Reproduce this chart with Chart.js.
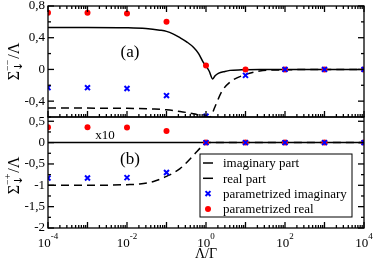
<!DOCTYPE html>
<html lang="en">
  <head>
    <meta charset="UTF-8" />
    <title>Sigma vs Lambda/Gamma</title>
    <script src="https://cdn.jsdelivr.net/npm/chart.js"></script>
    <style>
      body { margin: 0; background: #fff; }
    </style>
  </head>
  <body>
    <canvas id="myChart" width="374" height="261"></canvas>

    <script>
      // Lambda/Gamma values of the parametrized points
      const paramX = [1e-4, 1e-3, 1e-2, 1e-1, 1e0, 1e1, 1e2, 1e3, 1e4];

      // panel (a): Sigma^{--}/Lambda
      const paramImagA = [-0.23, -0.23, -0.24, -0.33, -0.59, -0.075, 0, 0, 0];
      const paramRealA = [0.715, 0.715, 0.705, 0.6, 0.05, 0, 0, 0, 0];

      const realXA = [1e-4, 1e-3, 1e-2, 0.03, 0.068, 0.1, 0.15, 0.22, 0.33, 0.48, 0.65, 0.855, 1.0, 1.2, 1.48, 1.7, 2.05, 3, 4.05, 8, 23, 100, 1e3, 1e4];
      const realYA = [0.53, 0.53, 0.525, 0.515, 0.495, 0.48, 0.445, 0.4, 0.345, 0.28, 0.2, 0.09, 0.045, -0.02, -0.12, -0.08, -0.05, -0.025, -0.012, -0.005, 0, 0, 0, 0];

      const imagXA = [1e-4, 1e-3, 1e-2, 0.05, 0.1, 0.22, 0.48, 0.8, 1.26, 1.69, 2.5, 4.05, 8.7, 23, 100, 1e3, 1e4];
      const imagYA = [-0.487, -0.488, -0.49, -0.5, -0.51, -0.53, -0.56, -0.585, -0.6, -0.47, -0.28, -0.16, -0.075, -0.02, -0.005, 0, 0];

      // panel (b): Sigma^{-+}/Lambda (parametrized real shown x10)
      const paramImagB = [-0.83, -0.83, -0.82, -0.7, 0, 0, 0, 0, 0];
      const paramRealB = [0.36, 0.36, 0.355, 0.27, 0, 0, 0, 0, 0];

      const realXB = [1e-4, 1e4];
      const realYB = [0, 0];

      const imagXB = [1e-4, 1e-3, 1e-2, 0.021, 0.047, 0.1, 0.22, 0.48, 0.8, 0.95, 1.0, 10, 1e4];
      const imagYB = [-1.0, -1.0, -0.985, -0.97, -0.91, -0.79, -0.61, -0.3, -0.08, -0.02, 0, 0, 0];

      // axis ticks
      const yTicksA = [-0.6, -0.4, -0.2, 0, 0.2, 0.4, 0.6, 0.8];
      const yLabelsA = [-0.4, 0, 0.4, 0.8];
      const yTicksB = [-2, -1.75, -1.5, -1.25, -1, -0.75, -0.5, -0.25, 0, 0.25, 0.5];
      const yLabelsB = [-2, -1.5, -1, -0.5, 0, 0.5];
      const xLabelExps = [-4, -2, 0, 2, 4];

      const legendItems = [
        { label: "imaginary part", kind: "dash" },
        { label: "real part", kind: "line" },
        { label: "parametrized imaginary", kind: "cross" },
        { label: "parametrized real", kind: "dot" },
      ];

      const serif = "'Liberation Serif', 'DejaVu Serif', serif";
      Chart.defaults.font.family = serif;
      Chart.defaults.color = "#000";

      const zip = (xs, ys) => xs.map((x, i) => ({ x: x, y: ys[i] }));
      const fmt = (v) => String(v).replace(".", ",");

      function lineSet(label, xs, ys, axis, dashed) {
        return {
          label: label,
          data: zip(xs, ys),
          yAxisID: axis,
          showLine: true,
          pointRadius: 0,
          borderColor: "#000",
          borderWidth: 1.5,
          borderDash: dashed ? [8, 5] : [],
          cubicInterpolationMode: "monotone",
          order: 3,
        };
      }

      function crossSet(ys, axis) {
        return {
          label: "parametrized imaginary",
          data: zip(paramX, ys),
          yAxisID: axis,
          pointStyle: "crossRot",
          pointRadius: 3.5,
          pointBorderWidth: 2,
          borderColor: "#0000ff",
          backgroundColor: "#0000ff",
          order: 1,
        };
      }

      function dotSet(ys, axis) {
        return {
          label: "parametrized real",
          data: zip(paramX, ys),
          yAxisID: axis,
          pointStyle: "circle",
          pointRadius: 3,
          borderWidth: 0,
          borderColor: "#ff0000",
          backgroundColor: "#ff0000",
          order: 2,
        };
      }

      function yScale(min, max, ticks, labels) {
        return {
          type: "linear",
          position: "left",
          stack: "panels",
          stackWeight: 1,
          min: min,
          max: max,
          afterBuildTicks: (s) => {
            s.ticks = ticks.map((v) => ({ value: v }));
          },
          afterFit: (s) => {
            s.width = 48;
            s.paddingTop = 0;
            s.paddingBottom = 0;
          },
          ticks: {
            autoSkip: false,
            padding: 3,
            color: "#000",
            font: { size: 13 },
            callback: (v) => (labels.includes(v) ? fmt(v) : ""),
          },
          grid: { display: false, drawTicks: false },
          border: { display: false },
        };
      }

      function drawSigmaTitle(c, cx, cy, sup) {
        c.save();
        c.translate(cx, cy);
        c.rotate(-Math.PI / 2);
        const big = "16px " + serif;
        const small = "10px " + serif;
        const arrow = "11px 'DejaVu Sans', sans-serif";
        c.font = big;
        const wS = c.measureText("Σ").width;
        const wL = c.measureText("/Λ").width;
        c.font = arrow;
        const wA = c.measureText("↓").width;
        c.font = small;
        const wMid = Math.max(wA, c.measureText(sup).width) + 1;
        const x0 = -(wS + wMid + wL) / 2;
        c.textAlign = "left";
        c.textBaseline = "alphabetic";
        c.font = big;
        c.fillText("Σ", x0, 0);
        c.font = arrow;
        c.fillText("↓", x0 + wS, 3);
        c.font = small;
        c.fillText(sup, x0 + wS, -8);
        c.font = big;
        c.fillText("/Λ", x0 + wS + wMid, 0);
        c.restore();
      }

      const panelPlugin = {
        id: "panels",
        afterDraw(chart) {
          const c = chart.ctx;
          const xs = chart.scales.x;
          const yA = chart.scales.yA;
          const yB = chart.scales.yB;
          const left = chart.chartArea.left;
          const right = chart.chartArea.right;
          const seg = (x1, y1, x2, y2) => {
            c.beginPath();
            c.moveTo(x1, y1);
            c.lineTo(x2, y2);
            c.stroke();
          };

          c.save();
          c.strokeStyle = "#000";
          c.fillStyle = "#000";
          c.lineWidth = 1.3;

          // frames and y ticks
          [yA, yB].forEach((s) => {
            c.strokeRect(left, s.top, right - left, s.bottom - s.top);
            s.ticks.forEach((t) => {
              const py = s.getPixelForValue(t.value);
              const len = t.label ? 6 : 3;
              seg(left, py, left + len, py);
              seg(right, py, right - len, py);
            });
          });

          // x ticks (decades major, 2..9 minor)
          for (let n = -4; n <= 4; n++) {
            for (let k = 1; k <= 9; k++) {
              if (n === 4 && k > 1) break;
              const px = xs.getPixelForValue(k * Math.pow(10, n));
              const len = k === 1 ? 6 : 3;
              seg(px, yA.top, px, yA.top + len);
              seg(px, yA.bottom, px, yA.bottom - len);
              seg(px, yB.bottom, px, yB.bottom - len);
            }
          }

          // x tick labels 10^n
          c.textBaseline = "alphabetic";
          c.textAlign = "left";
          xLabelExps.forEach((e) => {
            const px = xs.getPixelForValue(Math.pow(10, e));
            c.font = "13px " + serif;
            const wb = c.measureText("10").width;
            c.font = "9px " + serif;
            const we = c.measureText(String(e)).width;
            const x0 = px - (wb + we) / 2;
            c.font = "13px " + serif;
            c.fillText("10", x0, 247);
            c.font = "9px " + serif;
            c.fillText(String(e), x0 + wb, 239);
          });

          // axis titles
          c.font = "14px " + serif;
          c.textAlign = "center";
          c.fillText("Λ/Γ", (left + right) / 2, 258);
          drawSigmaTitle(c, 19, (yA.top + yA.bottom) / 2, "−−");
          drawSigmaTitle(c, 19, (yB.top + yB.bottom) / 2 + 3, "−+");

          // panel annotations
          c.textAlign = "center";
          c.textBaseline = "middle";
          c.font = "17px " + serif;
          c.fillText("(a)", 130, 53);
          c.fillText("(b)", 130, 160);
          c.font = "13px " + serif;
          c.fillText("x10", 105, 136);

          // legend
          const bx = 200, by = 154, bw = 152, bh = 63;
          c.fillStyle = "#fff";
          c.fillRect(bx, by, bw, bh);
          c.lineWidth = 1;
          c.strokeRect(bx, by, bw, bh);
          c.textAlign = "left";
          c.font = "13px " + serif;
          legendItems.forEach((item, i) => {
            const ry = by + 9 + i * 15.3;
            c.strokeStyle = "#000";
            c.lineWidth = 1.5;
            if (item.kind === "dash" || item.kind === "line") {
              seg(203, ry, 213, ry);
            } else if (item.kind === "cross") {
              c.strokeStyle = "#0000ff";
              c.lineWidth = 2;
              Chart.helpers.drawPoint(c, { pointStyle: "crossRot", radius: 3.5, borderWidth: 2 }, 208, ry);
            } else {
              c.fillStyle = "#ff0000";
              c.beginPath();
              c.arc(208, ry, 3, 0, Math.PI * 2);
              c.fill();
            }
            c.fillStyle = "#000";
            c.fillText(item.label, 223, ry + 1);
          });
          c.restore();
        },
      };

      new Chart(document.getElementById("myChart"), {
        type: "scatter",
        data: {
          datasets: [
            lineSet("real part", realXA, realYA, "yA", false),
            lineSet("imaginary part", imagXA, imagYA, "yA", true),
            lineSet("real part", realXB, realYB, "yB", false),
            lineSet("imaginary part", imagXB, imagYB, "yB", true),
            crossSet(paramImagA, "yA"),
            dotSet(paramRealA, "yA"),
            crossSet(paramImagB, "yB"),
            dotSet(paramRealB, "yB"),
          ],
        },
        options: {
          responsive: false,
          animation: false,
          devicePixelRatio: 1,
          layout: { padding: { top: 5, right: 10, left: 0, bottom: 0 } },
          plugins: { legend: { display: false }, tooltip: { enabled: false } },
          scales: {
            x: {
              type: "logarithmic",
              position: "bottom",
              min: 1e-4,
              max: 1e4,
              ticks: { display: false },
              grid: { display: false, drawTicks: false },
              border: { display: false },
              afterFit: (s) => {
                s.height = 33;
                s.paddingLeft = 0;
                s.paddingRight = 0;
              },
            },
            yB: yScale(-2, 0.6, yTicksB, yLabelsB),
            yA: yScale(-0.6, 0.8, yTicksA, yLabelsA),
          },
        },
        plugins: [panelPlugin],
      });
    </script>
  </body>
</html>
